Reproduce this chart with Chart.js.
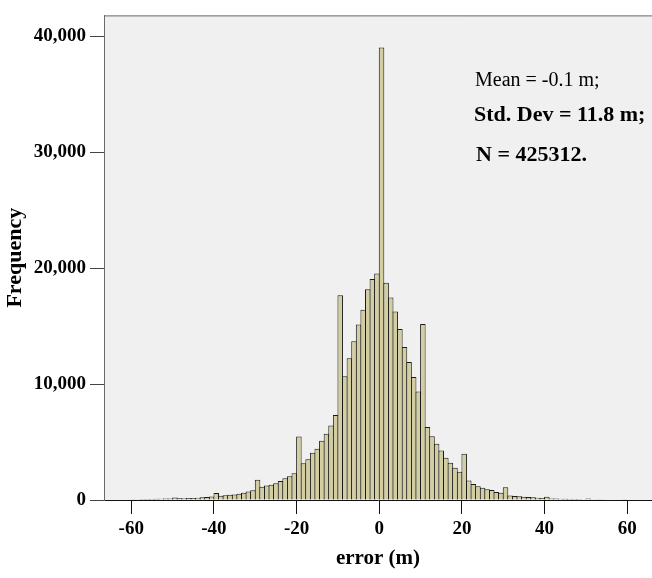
<!DOCTYPE html>
<html>
<head>
<meta charset="utf-8">
<script src="https://cdn.jsdelivr.net/npm/chart.js@4/dist/chart.umd.min.js"></script>
<style>
html,body{margin:0;padding:0;background:#fff;}
#wrap{width:652px;height:578px;position:relative;}
</style>
</head>
<body>
<div id="wrap"><canvas id="c" width="652" height="578"></canvas></div>
<script>
// Histogram structure: bins start at -60, width 10/9 m
const binStartValue = -60;
const binWidth = 10 / 9;

// Frequencies, one per bin (left to right)
const frequency = [
  60, 70, 80, 85, 90, 100, 110, 120, 130, 220,
  150, 160, 170, 180, 200, 230, 260, 300, 600,
  370, 400, 450, 480, 530, 630, 730, 840,
  1750,
  1150, 1240, 1320, 1440, 1630, 1880, 2050, 2310,
  5480,
  3180, 3510, 4070, 4425, 5100, 5710, 6420, 7340,
  17660,
  10680, 12220, 13690, 15130, 16400, 18170, 19070, 19530,
  39030,
  18730, 17470, 16270, 14760, 13190, 11900, 10620, 9360,
  15190,
  6300, 5500, 4850, 4270, 3650, 3210, 2790, 2430,
  3990,
  1680, 1380, 1190, 1060, 920, 860, 700, 630,
  1100,
  380, 350, 320, 290, 260, 230, 200, 170,
  280,
  140, 120, 110, 100, 90, 85, 80, 75,
  130,
  65, 60, 55, 50, 45, 40, 35, 30
];

const xTicks = [-60, -40, -20, 0, 20, 40, 60];
const yTicks = [0, 10000, 20000, 30000, 40000];
const xTitle = "error (m)";
const yTitle = "Frequency";
const statLines = ["Mean = -0.1 m;", "Std. Dev = 11.8 m;", "N = 425312."];

const FONT = "'Liberation Serif', 'Times New Roman', serif";

const points = frequency.map((f, i) => ({ x: binStartValue + (i + 0.5) * binWidth, y: f }));

const framePlugin = {
  id: 'frame',
  beforeDraw(chart) {
    const { ctx, chartArea: a } = chart;
    ctx.save();
    ctx.fillStyle = '#ffffff';
    ctx.fillRect(0, 0, chart.width, chart.height);
    ctx.fillStyle = '#f0f0f0';
    ctx.fillRect(a.left, a.top, a.right - a.left, a.bottom - a.top);
    ctx.strokeStyle = '#6a6a6a';
    ctx.lineWidth = 1;
    ctx.beginPath();
    ctx.moveTo(a.left, a.top + 0.5);
    ctx.lineTo(a.right, a.top + 0.5);
    ctx.stroke();
    ctx.restore();
  },
  afterDraw(chart) {
    const { ctx } = chart;
    ctx.save();
    ctx.fillStyle = '#000';
    ctx.textBaseline = 'alphabetic';
    ctx.textAlign = 'left';
    ctx.font = "20px " + FONT;
    ctx.fillText(statLines[0], 475, 86);
    ctx.font = "bold 22px " + FONT;
    ctx.fillText(statLines[1], 474, 121);
    ctx.fillText(statLines[2], 476, 161);
    ctx.restore();
  }
};

new Chart(document.getElementById('c'), {
  type: 'bar',
  data: {
    datasets: [{
      data: points,
      backgroundColor: '#d3cea1',
      borderColor: '#1a1a1a',
      borderWidth: 1,
      borderSkipped: 'start',
      barPercentage: 1.2,
      categoryPercentage: 1.0
    }]
  },
  options: {
    responsive: false,
    animation: false,
    devicePixelRatio: 1,
    layout: { padding: { top: 12, right: 0, bottom: 0, left: 0 } },
    plugins: { legend: { display: false }, tooltip: { enabled: false } },
    scales: {
      x: {
        type: 'linear',
        min: -66.6,
        max: 66.0,
        offset: false,
        afterBuildTicks: s => { s.ticks = xTicks.map(v => ({ value: v })); },
        afterFit: s => { s.height = 78; },
        grid: { offset: false, drawOnChartArea: false, drawTicks: true, tickLength: 14, color: '#111', lineWidth: 1 },
        border: { display: true, color: '#111', width: 1 },
        ticks: {
          font: { family: FONT, size: 19, weight: 'bold' },
          color: '#000', padding: 4, maxRotation: 0, autoSkip: false,
          callback: v => String(v)
        },
        title: {
          display: true, text: xTitle, color: '#000',
          font: { family: FONT, size: 21, weight: 'bold' },
          padding: { top: 0, bottom: 7 }
        }
      },
      y: {
        type: 'linear',
        min: 0,
        max: 41800,
        afterBuildTicks: s => { s.ticks = yTicks.map(v => ({ value: v })); },
        afterFit: s => { s.width = 104; },
        grid: { drawOnChartArea: false, drawTicks: true, tickLength: 14, color: '#444', lineWidth: 1 },
        border: { display: true, color: '#6a6a6a', width: 1 },
        ticks: {
          font: { family: FONT, size: 19, weight: 'bold' },
          color: '#000', padding: 4,
          callback: v => v.toLocaleString('en-US')
        },
        title: {
          display: true, text: yTitle, color: '#000',
          font: { family: FONT, size: 22, weight: 'bold' },
          padding: { top: 2, bottom: 0 }
        }
      }
    }
  },
  plugins: [framePlugin]
});
</script>
</body>
</html>
